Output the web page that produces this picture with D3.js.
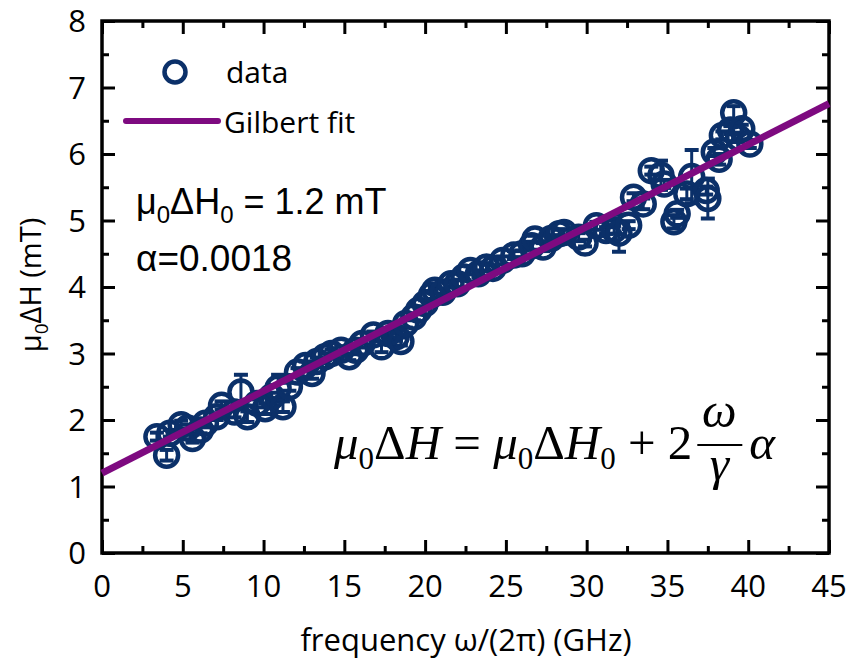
<!DOCTYPE html>
<html>
<head>
<meta charset="UTF-8">
<script src="https://d3js.org/d3.v7.min.js"></script>
<style>
  body { margin: 0; background: #fff; }
  svg text { font-family: "Open Sans", sans-serif; }
</style>
</head>
<body>
<div id="chart"></div>
<script>
// measured linewidth vs frequency
const freq = [3.4, 4.0, 4.2, 4.9, 5.3, 5.6, 6.1, 6.4, 7.1, 7.4, 8.2, 8.6, 9.0, 9.6, 10.1, 10.5, 10.9, 11.2, 11.6, 12.1,
  12.6, 13.0, 13.3, 13.8, 14.2, 14.8, 15.3, 15.7, 16.1, 16.8, 17.3, 17.7, 18.2, 18.5, 18.8, 19.3, 19.6, 20.0, 20.4, 20.6,
  21.1, 21.6, 22.0, 22.4, 22.8, 23.3, 23.8, 24.2, 24.8, 25.5, 26.0, 26.6, 26.8, 27.3, 27.8, 28.3, 28.6, 29.5, 29.9, 30.6,
  31.2, 31.7, 32.0, 32.6, 32.9, 33.5, 34.0, 34.6, 34.8, 35.4, 35.6, 36.2, 36.5, 37.4, 37.5, 37.9, 38.2, 38.4, 38.9, 39.1,
  39.4, 39.6, 40.1];
const dH = [1.75, 1.47, 1.80, 1.93, 1.88, 1.72, 1.85, 1.95, 2.05, 2.22, 2.12, 2.42, 2.05, 2.25, 2.17, 2.35, 2.48, 2.20, 2.50, 2.72,
  2.82, 2.70, 2.88, 2.95, 3.00, 3.05, 2.95, 3.05, 3.15, 3.28, 3.10, 3.30, 3.25, 3.18, 3.45, 3.55, 3.65, 3.75, 3.88, 3.95,
  3.92, 4.05, 4.05, 4.15, 4.25, 4.20, 4.30, 4.28, 4.40, 4.48, 4.50, 4.62, 4.72, 4.60, 4.73, 4.80, 4.82, 4.75, 4.66, 4.92,
  4.85, 4.86, 4.81, 4.93, 5.35, 5.25, 5.75, 5.68, 5.55, 4.98, 5.10, 5.40, 5.66, 5.45, 5.33, 6.03, 5.92, 6.28, 6.36, 6.62,
  6.24, 6.38, 6.15];
const dHerr = [0.06, 0.08, 0.05, 0.06, 0.05, 0.06, 0.05, 0.06, 0.05, 0.06, 0.08, 0.26, 0.08, 0.06, 0.08, 0.06, 0.20, 0.08, 0.06, 0.06,
  0.06, 0.08, 0.06, 0.05, 0.06, 0.06, 0.05, 0.06, 0.06, 0.05, 0.08, 0.06, 0.06, 0.06, 0.06, 0.05, 0.06, 0.05, 0.06, 0.05,
  0.06, 0.05, 0.06, 0.05, 0.06, 0.05, 0.06, 0.05, 0.06, 0.06, 0.05, 0.06, 0.05, 0.06, 0.05, 0.06, 0.05, 0.06, 0.05, 0.06,
  0.05, 0.06, 0.28, 0.06, 0.06, 0.08, 0.06, 0.22, 0.06, 0.10, 0.06, 0.08, 0.40, 0.06, 0.30, 0.06, 0.08, 0.06, 0.06, 0.10,
  0.06, 0.06, 0.06];

// Gilbert fit: dH = dH0 + slope * f
const fitH0 = 1.2;
const fitSlope = 0.1235;
const fitRange = [0, 45];

const xTicks = [0, 5, 10, 15, 20, 25, 30, 35, 40, 45];
const yTicks = [0, 1, 2, 3, 4, 5, 6, 7, 8];

const W = 866, H = 667;
const pLeft = 102, pRight = 829, pTop = 21, pBottom = 553;
const navy = "#0b3069", purple = "#7e0a80";

const svg = d3.select("#chart").append("svg").attr("width", W).attr("height", H);

const x = d3.scaleLinear().domain([0, 45]).range([pLeft, pRight]);
const y = d3.scaleLinear().domain([0, 8]).range([pBottom, pTop]);

// axes, ticks inward on all four sides
const minorX = d3.range(2.5, 45, 5);
const minorY = d3.range(0.5, 8, 1);
function addAxis(axisFn, scale, pos, major, minor) {
  const g = svg.append("g").attr("transform", pos);
  g.call(axisFn(scale).tickValues(minor).tickSize(-7).tickFormat(""));
  const g2 = svg.append("g").attr("transform", pos);
  g2.call(axisFn(scale).tickValues(major).tickSize(-13).tickFormat(""));
  [g, g2].forEach(a => {
    a.selectAll(".domain").remove();
    a.selectAll(".tick line").attr("stroke", "#000").attr("stroke-width", 3);
  });
}
addAxis(d3.axisBottom, x, `translate(0,${pBottom})`, xTicks, minorX);
addAxis(d3.axisTop, x, `translate(0,${pTop})`, xTicks, minorX);
addAxis(d3.axisLeft, y, `translate(${pLeft},0)`, yTicks, minorY);
addAxis(d3.axisRight, y, `translate(${pRight},0)`, yTicks, minorY);

svg.append("rect")
  .attr("x", pLeft).attr("y", pTop)
  .attr("width", pRight - pLeft).attr("height", pBottom - pTop)
  .attr("fill", "none").attr("stroke", "#000").attr("stroke-width", 3.5);

// tick labels
svg.append("g").selectAll("text").data(xTicks).join("text")
  .attr("x", d => x(d)).attr("y", 597)
  .attr("text-anchor", "middle")
  .style("font-size", "31px")
  .text(d => d);
svg.append("g").selectAll("text").data(yTicks).join("text")
  .attr("x", 86).attr("y", d => y(d) + 11)
  .attr("text-anchor", "end")
  .style("font-size", "31px")
  .text(d => d);

// axis titles
svg.append("text")
  .attr("x", 466).attr("y", 651)
  .attr("text-anchor", "middle")
  .style("font-size", "31px")
  .text("frequency ω/(2π) (GHz)");

const yt = svg.append("text")
  .attr("transform", "translate(41,285) rotate(-90)")
  .attr("text-anchor", "middle")
  .style("font-size", "29px");
yt.append("tspan").text("μ");
yt.append("tspan").attr("dy", 7).style("font-size", "19px").text("0");
yt.append("tspan").attr("dy", -7).text("ΔH (mT)");

// data with error bars
const data = freq.map((f, i) => ({f: f, v: dH[i], e: dHerr[i]}));
const pts = svg.append("g");
pts.selectAll(".eb").data(data).join("line")
  .attr("x1", d => x(d.f)).attr("x2", d => x(d.f))
  .attr("y1", d => y(d.v - d.e)).attr("y2", d => y(d.v + d.e))
  .attr("stroke", navy).attr("stroke-width", 3);
[-1, 1].forEach(s => {
  pts.append("g").selectAll("line").data(data).join("line")
    .attr("x1", d => x(d.f) - 7).attr("x2", d => x(d.f) + 7)
    .attr("y1", d => y(d.v + s * d.e)).attr("y2", d => y(d.v + s * d.e))
    .attr("stroke", navy).attr("stroke-width", 4);
});
pts.append("g").selectAll("circle").data(data).join("circle")
  .attr("cx", d => x(d.f)).attr("cy", d => y(d.v))
  .attr("r", 11.5)
  .attr("fill", "none").attr("stroke", navy).attr("stroke-width", 4.5);

// fit line
const fitLine = d3.line().x(d => x(d)).y(d => y(fitH0 + fitSlope * d));
svg.append("path").datum(fitRange)
  .attr("d", fitLine)
  .attr("fill", "none").attr("stroke", purple).attr("stroke-width", 7);

// legend
svg.append("circle").attr("cx", 175).attr("cy", 72).attr("r", 10.5)
  .attr("fill", "none").attr("stroke", navy).attr("stroke-width", 4.5);
svg.append("text").attr("x", 226).attr("y", 83).style("font-size", "30px").text("data");
svg.append("line").attr("x1", 126).attr("x2", 218).attr("y1", 121).attr("y2", 121)
  .attr("stroke", purple).attr("stroke-width", 6).attr("stroke-linecap", "round");
svg.append("text").attr("x", 224).attr("y", 133).style("font-size", "30px").text("Gilbert fit");

// fit parameters
const p1 = svg.append("text").attr("x", 136).attr("y", 214)
  .style("font-family", "'Liberation Sans', Arial, sans-serif").style("font-size", "36px");
p1.append("tspan").text("μ");
p1.append("tspan").attr("dy", 9).style("font-size", "24px").text("0");
p1.append("tspan").attr("dy", -9).text("ΔH");
p1.append("tspan").attr("dy", 9).style("font-size", "24px").text("0");
p1.append("tspan").attr("dy", -9).text(" = 1.2 mT");
svg.append("text").attr("x", 136).attr("y", 271)
  .style("font-family", "'Liberation Sans', Arial, sans-serif").style("font-size", "37px")
  .text("α=0.0018");

// equation
const serif = "'Liberation Serif', 'Times New Roman', serif";
const fs = 49;
const eq = svg.append("text").attr("x", 334).attr("y", 459)
  .style("font-family", serif).style("font-size", fs + "px");
eq.append("tspan").style("font-style", "italic").text("μ");
eq.append("tspan").attr("dy", 10).style("font-size", "31px").text("0");
eq.append("tspan").attr("dy", -10).text("Δ");
eq.append("tspan").style("font-style", "italic").text("H");
eq.append("tspan").text(" = ");
eq.append("tspan").style("font-style", "italic").text("μ");
eq.append("tspan").attr("dy", 10).style("font-size", "31px").text("0");
eq.append("tspan").attr("dy", -10).text("Δ");
eq.append("tspan").style("font-style", "italic").text("H");
eq.append("tspan").attr("dy", 10).style("font-size", "31px").text("0");
eq.append("tspan").attr("dy", -10).text(" + 2");
const eqEnd = 334 + eq.node().getComputedTextLength();
const fx = eqEnd + 27;
svg.append("line").attr("x1", eqEnd + 5).attr("x2", eqEnd + 50)
  .attr("y1", 445).attr("y2", 445).attr("stroke", "#000").attr("stroke-width", 2.2);
svg.append("text").attr("x", fx).attr("y", 427).attr("text-anchor", "middle")
  .style("font-family", serif).style("font-size", fs + "px").style("font-style", "italic").text("ω");
svg.append("text").attr("x", fx).attr("y", 480).attr("text-anchor", "middle")
  .style("font-family", serif).style("font-size", fs + "px").style("font-style", "italic").text("γ");
svg.append("text").attr("x", eqEnd + 57).attr("y", 459)
  .style("font-family", serif).style("font-size", fs + "px").style("font-style", "italic").text("α");
</script>
</body>
</html>
